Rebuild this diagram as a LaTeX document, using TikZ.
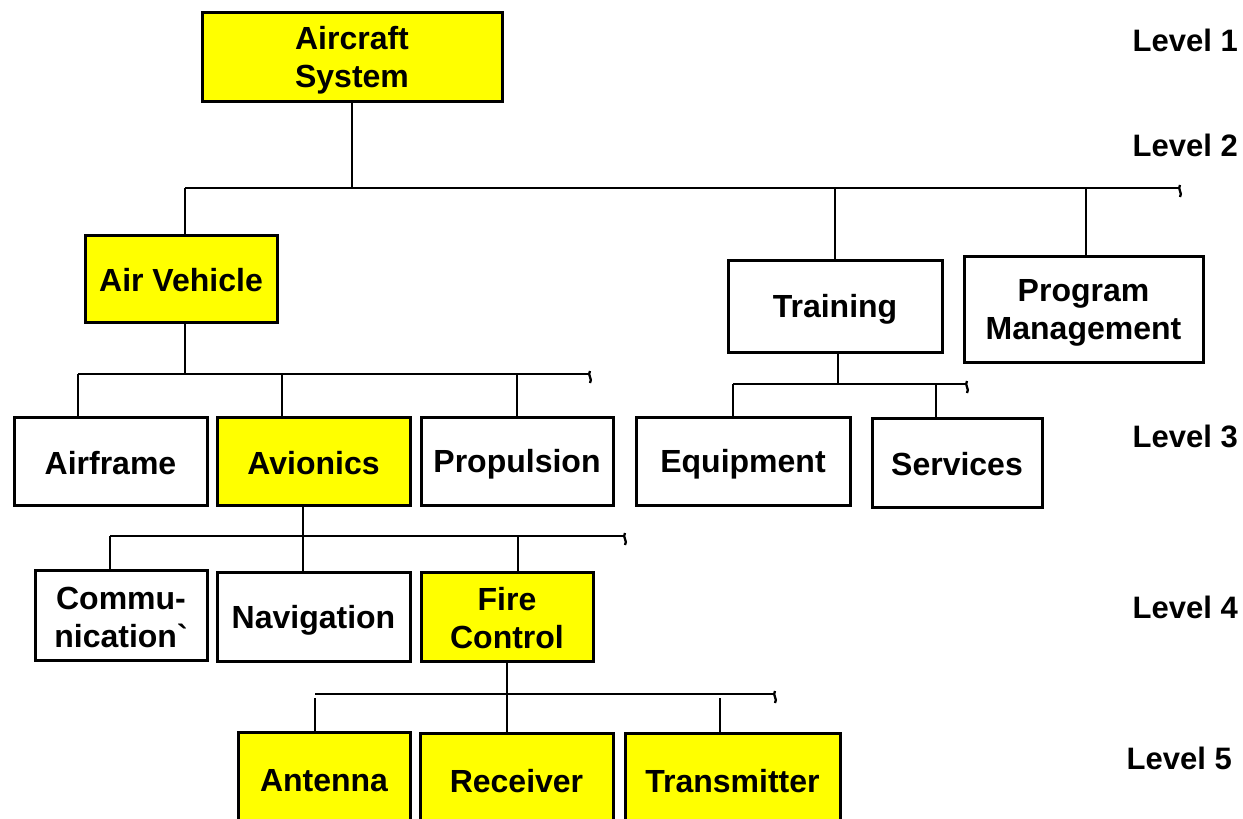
\documentclass[tikz,border=0pt]{standalone}
\usepackage{fontspec}
\setmainfont{Liberation Sans}
\definecolor{boxyellow}{RGB}{255,255,0}
\newcommand\bxstrut{\rule[-4pt]{0pt}{34pt}}
\begin{document}
\begin{tikzpicture}[x=1pt,y=-1pt,
  box/.style={draw, line width=3pt, inner sep=0pt, align=center,
    font=\fontsize{32}{38}\selectfont\bfseries},
  ybox/.style={box, fill=boxyellow},
  wbox/.style={box, fill=white},
  conn/.style={line width=2.9pt},
  squig/.style={line width=2.3pt},
  lvl/.style={anchor=east, inner sep=0pt, font=\fontsize{31}{36}\selectfont\bfseries}]
\useasboundingbox (0,0) rectangle (1243,819);

% Level 1
\node[ybox, minimum width=300, minimum height=89] (sys) at (352,56.5) {\bxstrut Aircraft\\\bxstrut System};
% Level 2
\node[ybox, minimum width=192, minimum height=87] (av) at (181,278.5) {\bxstrut Air Vehicle};
\node[wbox, minimum width=214, minimum height=92] (tr) at (835,306) {\bxstrut Training};
\node[wbox, minimum width=239, minimum height=106] (pm) at (1083.5,309) {\bxstrut Program\\\bxstrut Management};
% Level 3
\node[wbox, minimum width=193, minimum height=88] (af) at (110.5,461) {\bxstrut Airframe};
\node[ybox, minimum width=193, minimum height=88] (avi) at (313.5,461) {\bxstrut Avionics};
\node[wbox, minimum width=192, minimum height=88] (pr) at (517,461) {\bxstrut Propulsion};
\node[wbox, minimum width=214, minimum height=88] (eq) at (743,461) {\bxstrut Equipment};
\node[wbox, minimum width=170, minimum height=89] (sv) at (957,462.5) {\bxstrut Services};
% Level 4
\node[wbox, minimum width=172, minimum height=90] (cm) at (121,615) {\bxstrut Commu-\\\bxstrut nication\textasciigrave};
\node[wbox, minimum width=193, minimum height=89] (nv) at (313.5,616.5) {\bxstrut Navigation};
\node[ybox, minimum width=172, minimum height=89] (fc) at (507,616.5) {\bxstrut Fire\\\bxstrut Control};
% Level 5
\node[ybox, minimum width=172, minimum height=92] (an) at (324,778) {\bxstrut Antenna};
\node[ybox, minimum width=193, minimum height=92] (rc) at (516.5,779) {\bxstrut Receiver};
\node[ybox, minimum width=215, minimum height=92] (tm) at (732.5,779) {\bxstrut Transmitter};

% Level labels
\node[lvl] (l1) at (1238,40) {Level 1};
\node[lvl] (l2) at (1238,145) {Level 2};
\node[lvl] (l3) at (1238,436) {Level 3};
\node[lvl] (l4) at (1238,607) {Level 4};
\node[lvl] (l5) at (1232,758) {Level 5};

% Level 2 bus
\coordinate (b2s) at (185,188);
\coordinate (b2e) at (1180,188);
\coordinate (b2t) at (352,188);
\coordinate (b2a) at (835,188);
\coordinate (b2b) at (1086,188);
\draw[conn] (sys.south) -- (b2t);
\draw[conn] (b2s) -- (b2e);
\draw[conn] (b2s) -- (b2s |- av.north);
\draw[conn] (b2a) -- (b2a |- tr.north);
\draw[conn] (b2b) -- (b2b |- pm.north);
\draw[squig] (b2e) ++(0,-3) .. controls +(-3,4) and +(3,-4) .. +(0,12);

% Air Vehicle bus
\coordinate (b3s) at (78,374);
\coordinate (b3e) at (590,374);
\coordinate (b3t) at (185,374);
\coordinate (b3a) at (282,374);
\coordinate (b3b) at (517,374);
\draw[conn] (b3t |- av.south) -- (b3t);
\draw[conn] (b3s) -- (b3e);
\draw[conn] (b3s) -- (b3s |- af.north);
\draw[conn] (b3a) -- (b3a |- avi.north);
\draw[conn] (b3b) -- (b3b |- pr.north);
\draw[squig] (b3e) ++(0,-3) .. controls +(-3,4) and +(3,-4) .. +(0,12);

% Training bus
\coordinate (btt) at (838,384);
\coordinate (bts) at (733,384);
\coordinate (bte) at (967,384);
\coordinate (bta) at (936,384);
\draw[conn] (btt |- tr.south) -- (btt);
\draw[conn] (bts) -- (bte);
\draw[conn] (bts) -- (bts |- eq.north);
\draw[conn] (bta) -- (bta |- sv.north);
\draw[squig] (bte) ++(0,-3) .. controls +(-3,4) and +(3,-4) .. +(0,12);

% Avionics bus
\coordinate (b4t) at (303,536);
\coordinate (b4s) at (110,536);
\coordinate (b4e) at (625,536);
\coordinate (b4a) at (518,536);
\draw[conn] (b4t |- avi.south) -- (b4t);
\draw[conn] (b4s) -- (b4e);
\draw[conn] (b4s) -- (b4s |- cm.north);
\draw[conn] (b4t) -- (b4t |- nv.north);
\draw[conn] (b4a) -- (b4a |- fc.north);
\draw[squig] (b4e) ++(0,-3) .. controls +(-3,4) and +(3,-4) .. +(0,12);

% Fire Control bus
\coordinate (b5t) at (507,694);
\coordinate (b5s) at (315,694);
\coordinate (b5e) at (775,694);
\coordinate (b5a) at (720,698);
\draw[conn] (fc.south) -- (b5t);
\draw[conn] (b5s) -- (b5e);
\draw[conn] (315,698) -- (b5s |- an.north);
\draw[conn] (b5t) -- (b5t |- rc.north);
\draw[conn] (b5a) -- (b5a |- tm.north);
\draw[squig] (b5e) ++(0,-3) .. controls +(-3,4) and +(3,-4) .. +(0,12);
\end{tikzpicture}
\end{document}
